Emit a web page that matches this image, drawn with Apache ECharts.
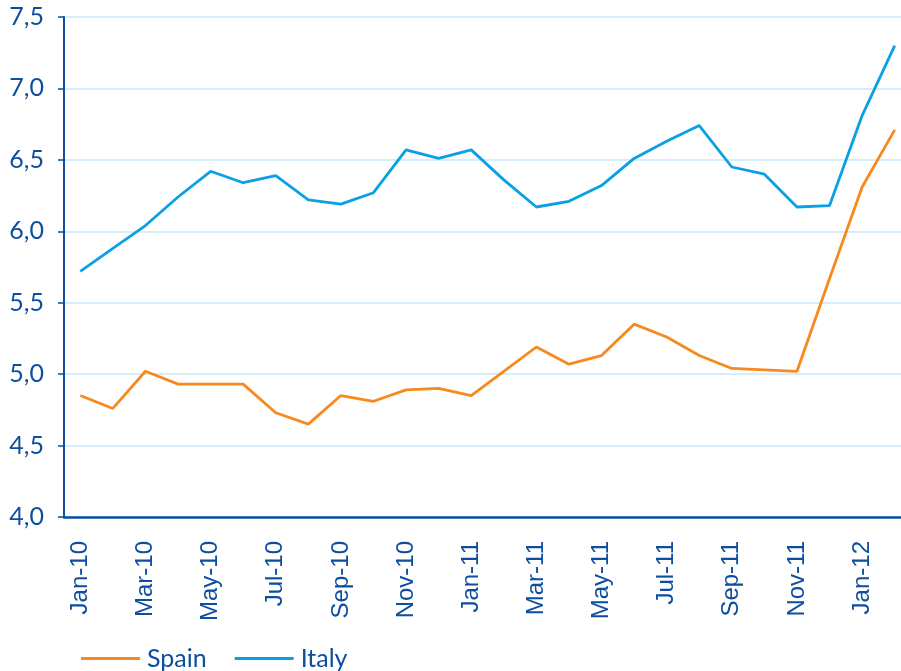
<!DOCTYPE html>
<html>
<head>
<meta charset="utf-8">
<script src="https://cdn.jsdelivr.net/npm/echarts@6/dist/echarts.min.js"></script>
<style>
    html, body { margin: 0; padding: 0; background: #fff; overflow: hidden; }
    /* plot runs a little past the right edge, as in the original */
    #chart { width: 911px; height: 671px; }
</style>
</head>
<body>
<div id="chart"></div>
<script>
    // monthly categories, Jan-10 .. Feb-12
    const months = [
        "Jan-10", "Feb-10", "Mar-10", "Apr-10", "May-10", "Jun-10",
        "Jul-10", "Aug-10", "Sep-10", "Oct-10", "Nov-10", "Dec-10",
        "Jan-11", "Feb-11", "Mar-11", "Apr-11", "May-11", "Jun-11",
        "Jul-11", "Aug-11", "Sep-11", "Oct-11", "Nov-11", "Dec-11",
        "Jan-12", "Feb-12",
    ];
    const spain = [
        4.85, 4.76, 5.02, 4.93, 4.93, 4.93, 4.73, 4.65, 4.85, 4.81, 4.89, 4.90,
        4.85, 5.02, 5.19, 5.07, 5.13, 5.35, 5.26, 5.13, 5.04, 5.03, 5.02, 5.67,
        6.31, 6.71,
    ];
    const italy = [
        5.72, 5.88, 6.04, 6.24, 6.42, 6.34, 6.39, 6.22, 6.19, 6.27, 6.57, 6.51,
        6.57, 6.36, 6.17, 6.21, 6.32, 6.51, 6.63, 6.74, 6.45, 6.40, 6.17, 6.18,
        6.81, 7.30,
    ];
    const yMin = 4.0;
    const yMax = 7.5;
    const yStep = 0.5;

    const axisBlue = "#0d4ea0";

    const myChart = echarts.init(document.getElementById("chart"));
    const option = {
        animation: false,
        grid: {
            left: 64,
            right: 0,
            top: 17,
            bottom: 154,
        },
        legend: {
            left: 76,
            top: 641,
            itemWidth: 59,
            itemHeight: 3,
            itemGap: 28,
            icon: "rect",
            textStyle: {
                color: axisBlue,
                fontSize: 25,
                fontFamily: "Lato",
                padding: [0, 0, 0, 2],
            },
            data: ["Spain", "Italy"],
        },
        xAxis: {
            type: "category",
            data: months,
            boundaryGap: true,
            axisLine: {
                lineStyle: { color: axisBlue, width: 2.5 },
            },
            axisTick: {
                interval: 1,
                length: 6,
                lineStyle: { color: axisBlue, width: 1.5 },
            },
            axisLabel: {
                interval: 1,
                rotate: 90,
                color: axisBlue,
                fontSize: 24,
                fontFamily: "Liberation Sans",
                margin: 24,
            },
            splitLine: { show: false },
        },
        yAxis: {
            type: "value",
            min: yMin,
            max: yMax,
            interval: yStep,
            axisLine: {
                show: true,
                lineStyle: { color: axisBlue, width: 2 },
            },
            axisTick: {
                show: true,
                length: 6,
                lineStyle: { color: axisBlue, width: 1.5 },
            },
            axisLabel: {
                color: axisBlue,
                fontSize: 25,
                fontFamily: "Lato",
                margin: 20,
                formatter: (v) => v.toFixed(1).replace(".", ","),
            },
            splitLine: {
                lineStyle: { color: "#c9e8f7", width: 1.5 },
            },
        },
        series: [
            {
                name: "Spain",
                type: "line",
                data: spain,
                showSymbol: false,
                lineStyle: { color: "#f7891f", width: 2.8 },
                itemStyle: { color: "#f7891f" },
            },
            {
                name: "Italy",
                type: "line",
                data: italy,
                showSymbol: false,
                lineStyle: { color: "#0aa0e6", width: 2.8 },
                itemStyle: { color: "#0aa0e6" },
            },
        ],
    };
    myChart.setOption(option);
</script>
</body>
</html>
